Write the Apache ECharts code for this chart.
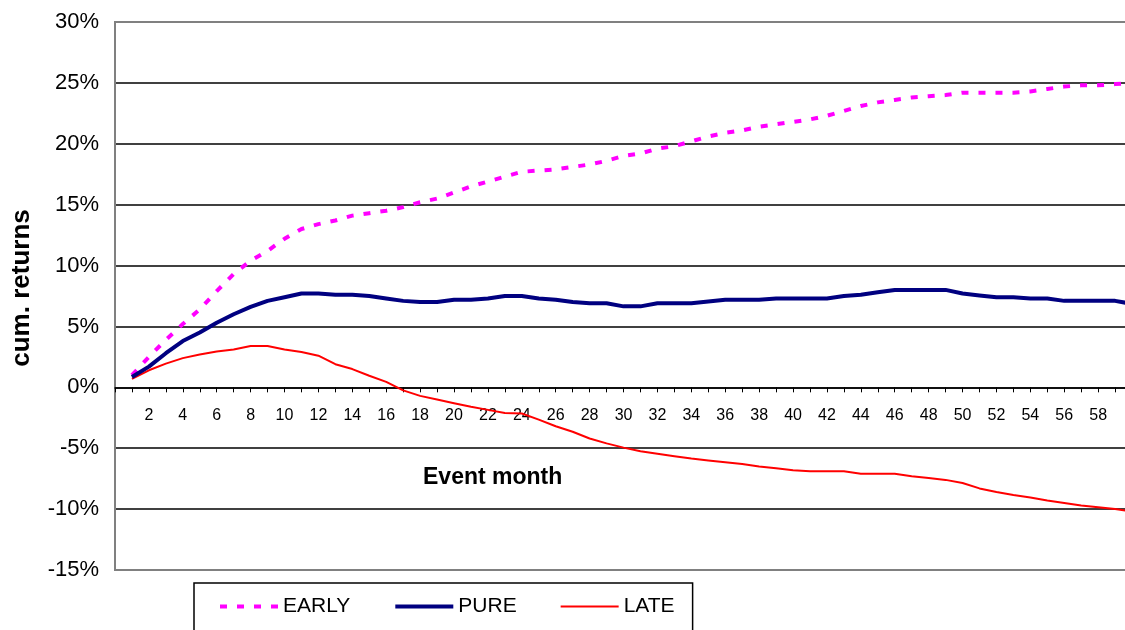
<!DOCTYPE html>
<html>
<head>
<meta charset="utf-8">
<script src="https://cdn.jsdelivr.net/npm/echarts@6/dist/echarts.min.js"></script>
<style>
html,body{margin:0;padding:0;background:#fff;}
#chart{width:1125px;height:630px;}
</style>
</head>
<body>
<div id="chart"></div>
<script>
const months = [];
for (let m = 1; m <= 60; m++) months.push(m);

const early = [1.0, 2.5, 3.9, 5.2, 6.4, 7.9, 9.3, 10.4, 11.2, 12.2,
  13.0, 13.4, 13.7, 14.1, 14.3, 14.5, 14.8, 15.2, 15.5, 16.0,
  16.5, 16.9, 17.3, 17.7, 17.8, 17.9, 18.1, 18.3, 18.6, 19.0,
  19.2, 19.6, 19.8, 20.2, 20.6, 20.9, 21.1, 21.4, 21.6, 21.8,
  22.0, 22.3, 22.7, 23.1, 23.4, 23.6, 23.8, 23.9, 24.0, 24.2,
  24.2, 24.2, 24.2, 24.3, 24.5, 24.7, 24.8, 24.8, 24.9, 25.0];

const pure = [0.85, 1.7, 2.8, 3.8, 4.5, 5.3, 6.0, 6.6, 7.1, 7.4,
  7.7, 7.7, 7.6, 7.6, 7.5, 7.3, 7.1, 7.0, 7.0, 7.2,
  7.2, 7.3, 7.5, 7.5, 7.3, 7.2, 7.0, 6.9, 6.9, 6.65,
  6.65, 6.9, 6.9, 6.9, 7.05, 7.2, 7.2, 7.2, 7.3, 7.3,
  7.3, 7.3, 7.5, 7.6, 7.8, 8.0, 8.0, 8.0, 8.0, 7.7,
  7.55, 7.4, 7.4, 7.3, 7.3, 7.1, 7.1, 7.1, 7.1, 6.85];

const late = [0.7, 1.4, 1.95, 2.4, 2.7, 2.95, 3.1, 3.4, 3.4, 3.1,
  2.9, 2.6, 1.9, 1.5, 0.95, 0.45, -0.25, -0.7, -1.0, -1.3,
  -1.6, -1.85, -2.1, -2.15, -2.65, -3.2, -3.65, -4.2, -4.6, -4.95,
  -5.25, -5.45, -5.65, -5.85, -6.0, -6.15, -6.3, -6.5, -6.65, -6.8,
  -6.9, -6.9, -6.9, -7.1, -7.1, -7.1, -7.3, -7.45, -7.6, -7.85,
  -8.3, -8.6, -8.85, -9.05, -9.3, -9.5, -9.7, -9.85, -10.0, -10.2];

const seriesNames = ['EARLY', 'PURE', 'LATE'];
const xTitle = 'Event month';
const yTitle = 'cum. returns';

function pairs(vals) { return months.map((m, i) => [m, vals[i]]); }

const chart = echarts.init(document.getElementById('chart'));
const font = 'Liberation Sans, Arial, sans-serif';

const gridTop = 22, gridHeight = 548, yMin = -15, yMax = 30;
// distance from the bottom of the plot up to the 0% line (axis placement)
const zeroOffset = gridHeight * (0 - yMin) / (yMax - yMin);

chart.setOption({
  animation: false,
  backgroundColor: '#fff',
  textStyle: { fontFamily: font, color: '#000' },
  title: {
    text: xTitle,
    left: 423, top: 466, padding: 0,
    textStyle: { fontSize: 23, fontWeight: 'bold', color: '#000', fontFamily: font }
  },
  grid: {
    left: 115, top: gridTop, width: 1034, height: gridHeight,
    outerBoundsMode: 'none',
    containLabel: false,
    show: true, borderColor: '#808080', borderWidth: 2, backgroundColor: 'transparent'
  },
  legend: {
    data: seriesNames,
    left: 194, top: 583,
    orient: 'horizontal',
    padding: [13, 18, 40, 24],
    itemWidth: 58, itemHeight: 14, itemGap: 43,
    borderColor: '#000', borderWidth: 1.5,
    itemStyle: { opacity: 0 },
    lineStyle: { width: 'inherit', type: 'inherit', color: 'inherit' },
    textStyle: { fontSize: 21, color: '#000', fontFamily: font }
  },
  xAxis: {
    type: 'value',
    position: 'bottom',
    offset: -zeroOffset,
    min: 0, max: 61, interval: 1,
    axisLine: { onZero: false, lineStyle: { color: '#000', width: 1.5 } },
    axisTick: { show: true, length: 5, lineStyle: { color: '#000', width: 1 } },
    axisLabel: {
      margin: 20, fontSize: 16, color: '#000', fontFamily: font,
      formatter: v => (v >= 2 && v <= 58 && v % 2 === 0) ? String(v) : ''
    },
    splitLine: { show: false }
  },
  yAxis: {
    type: 'value',
    min: yMin, max: yMax, interval: 5,
    name: yTitle,
    nameLocation: 'middle',
    nameGap: 80,
    nameTextStyle: { fontSize: 26, fontWeight: 'bold', color: '#000', fontFamily: font, padding: [0, 0, 0, 16] },
    axisLine: { show: true, lineStyle: { color: '#808080', width: 2 } },
    axisTick: { show: false },
    axisLabel: { margin: 16, fontSize: 22, color: '#000', fontFamily: font, formatter: '{value}%' },
    splitLine: {
      show: true, showMinLine: false, showMaxLine: false,
      lineStyle: { color: '#000', width: 1.5 }
    }
  },
  series: [
    {
      name: seriesNames[0], type: 'line', data: pairs(early),
      symbol: 'none', smooth: false,
      lineStyle: { color: '#FF00FF', width: 4, type: [7, 10] },
      itemStyle: { color: '#FF00FF' }, z: 3
    },
    {
      name: seriesNames[1], type: 'line', data: pairs(pure),
      symbol: 'none',
      lineStyle: { color: '#000080', width: 4 },
      itemStyle: { color: '#000080' }, z: 4
    },
    {
      name: seriesNames[2], type: 'line', data: pairs(late),
      symbol: 'none',
      lineStyle: { color: '#FF0000', width: 2 },
      itemStyle: { color: '#FF0000' }, z: 2
    }
  ]
});
</script>
</body>
</html>
